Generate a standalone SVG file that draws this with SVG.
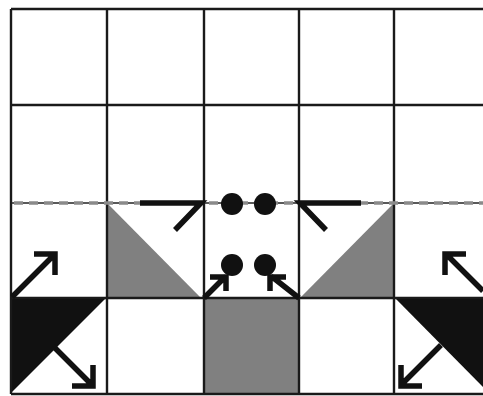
<svg xmlns="http://www.w3.org/2000/svg" width="483" height="396" viewBox="0 0 483 396">
<style>
.grid{stroke:#1a1a1a;stroke-width:2.4;fill:none}
.gray{fill:#808080}
.blk{fill:#111}
.arr{stroke:#111;stroke-width:5.5;fill:none;stroke-linecap:butt;stroke-linejoin:miter}
.dot{fill:#111}
</style>
<rect width="483" height="396" fill="#fff"/>
<g id="fills">
<polygon class="gray" points="107,203 107,298 201,298"/>
<polygon class="gray" points="394,203 394,298 300,298"/>
<rect class="gray" x="204" y="298" width="95" height="96"/>
<polygon class="blk" points="11,298 106,298 11,393"/>
<polygon class="blk" points="395,298 483,298 483,387"/>
</g>
<g id="grid">
<path class="grid" d="M11,9 H483 M11,105 H483 M11,298 H483 M11,394 H483 M11,9 V394 M107,9 V394 M204,9 V394 M299,9 V394 M394,9 V394"/>
<line x1="11" y1="203" x2="483" y2="203" stroke="#222" stroke-width="1.6"/>
<line x1="14" y1="203" x2="483" y2="203" stroke="#8a8a8a" stroke-width="3.5" stroke-dasharray="9,6"/>
</g>
<g id="connectors">
<path class="arr" d="M140,203 H201 L175,230"/>
<path class="arr" d="M361,203 H300 L326,230"/>
<path class="arr" d="M12,297 L54,255 M34,254 H55 V275"/>
<path class="arr" d="M53,346 L92,385 M93,365 V386 H72"/>
<path class="arr" d="M483,291 L446,254 M466,254 H445 V275"/>
<path class="arr" d="M441,345 L402,384 M401,365 V386 H422"/>
<path class="arr" d="M204,298 L226,276 M210,277 H226 V291"/>
<path class="arr" d="M299,298 L271,276 M286,277 H270 V291"/>
</g>
<g id="dots">
<circle class="dot" cx="232" cy="204" r="11"/>
<circle class="dot" cx="265" cy="204" r="11"/>
<circle class="dot" cx="232" cy="265" r="11"/>
<circle class="dot" cx="265" cy="265" r="11"/>
</g>
</svg>
